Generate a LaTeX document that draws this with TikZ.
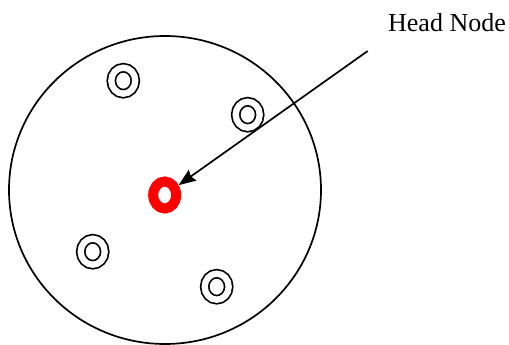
\documentclass[tikz,border=0pt]{standalone}
\usepackage{fontspec}
\setmainfont{Liberation Serif}
\usetikzlibrary{shapes.geometric,arrows.meta}
\begin{document}
\begin{tikzpicture}[x=1pt,y=-1pt,
  member/.style={ellipse,draw=black,line width=1.7pt,double,double distance=6.3pt,
    minimum width=24pt,minimum height=26pt,inner sep=0pt},
  headnode/.style={ellipse,draw=red,line width=10pt,minimum width=23pt,
    minimum height=27pt,inner sep=0pt,outer sep=5pt},
  label/.style={font=\fontsize{26}{30}\selectfont,inner sep=0pt,anchor=base},
  pointer/.style={line width=1.7pt,-{Stealth[length=17pt,width=13pt,inset=2pt]}}]
\useasboundingbox (0,0) rectangle (509,345);
\node[ellipse,draw,line width=1.7pt,minimum width=312pt,minimum height=308pt,inner sep=0pt] (cluster) at (165,190) {};
\node[member] (m1) at (123.3,80.7) {};
\node[member] (m2) at (247.7,114.7) {};
\node[member] (m3) at (92.7,251.7) {};
\node[member] (m4) at (216.7,286.7) {};
\node[headnode] (head) at (164.7,195) {};
\node[label] (lbl) at (447,32) {Head Node};
\coordinate (tail) at (367.7,51);
\draw[pointer] (tail) -- (head);
\end{tikzpicture}
\end{document}
